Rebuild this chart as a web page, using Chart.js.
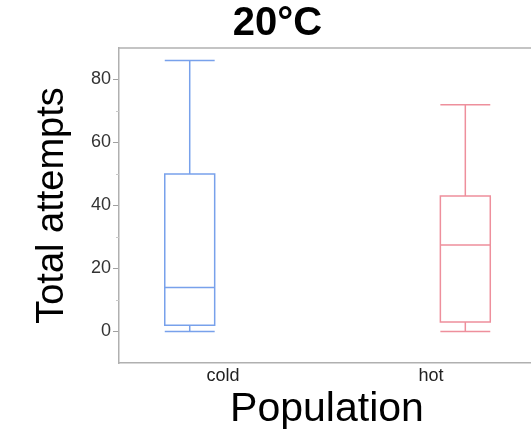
<!DOCTYPE html>
<html>
<head>
<meta charset="utf-8">
<title>20°C</title>
<script src="https://cdn.jsdelivr.net/npm/chart.js@4.4.1/dist/chart.umd.min.js"></script>
<style>
    html, body { margin: 0; padding: 0; background: #fff; overflow: hidden; }
    #wrap { width: 540px; height: 436px; }
</style>
</head>
<body>
<div id="wrap"><canvas id="chart"></canvas></div>
<script>
// box plot values
const populations = ['cold', 'hot'];
const whiskerLow = [0, 0];
const quartile1 = [2, 3];
const medians = [14, 27.5];
const quartile3 = [50, 43];
const whiskerHigh = [86, 72];
const yTicks = [0, 20, 40, 60, 80];
const yMinorTicks = [10, 30, 50, 70];

const FONT = '"Liberation Sans", Arial, Helvetica, sans-serif';
const boxColors = ['#78a1eb', '#ee8f9c'];
const labelPos = [1, 3];        // category names on the x scale
const boxPos = [0.68, 3.33];    // boxes sit a bit off their labels in the original
const boxHalf = 0.24;

const boxPlotPlugin = {
    id: 'boxPlot',
    afterDatasetsDraw(chart) {
        const { ctx, chartArea, scales: { x, y } } = chart;
        ctx.save();

        // top edge of the frame
        ctx.strokeStyle = '#b0b0b0';
        ctx.lineWidth = 1.5;
        ctx.beginPath();
        ctx.moveTo(chartArea.left, chartArea.top);
        ctx.lineTo(chartArea.right, chartArea.top);
        ctx.stroke();

        // minor y ticks
        ctx.strokeStyle = '#c8c8c8';
        ctx.lineWidth = 1;
        ctx.beginPath();
        yMinorTicks.forEach(v => {
            const py = Math.round(y.getPixelForValue(v)) + 0.5;
            ctx.moveTo(chartArea.left - 3, py);
            ctx.lineTo(chartArea.left, py);
        });
        ctx.stroke();

        ctx.lineWidth = 1.5;
        populations.forEach((p, i) => {
            const cx = x.getPixelForValue(boxPos[i]);
            const left = x.getPixelForValue(boxPos[i] - boxHalf);
            const right = x.getPixelForValue(boxPos[i] + boxHalf);
            const yLo = y.getPixelForValue(whiskerLow[i]);
            const yQ1 = y.getPixelForValue(quartile1[i]);
            const yMed = y.getPixelForValue(medians[i]);
            const yQ3 = y.getPixelForValue(quartile3[i]);
            const yHi = y.getPixelForValue(whiskerHigh[i]);

            ctx.strokeStyle = boxColors[i];
            ctx.beginPath();
            ctx.rect(left, yQ3, right - left, yQ1 - yQ3);
            ctx.moveTo(left, yMed); ctx.lineTo(right, yMed);
            ctx.moveTo(cx, yQ3); ctx.lineTo(cx, yHi);
            ctx.moveTo(cx, yQ1); ctx.lineTo(cx, yLo);
            ctx.moveTo(left, yHi); ctx.lineTo(right, yHi);
            ctx.moveTo(left, yLo); ctx.lineTo(right, yLo);
            ctx.stroke();
        });
        ctx.restore();
    }
};

new Chart(document.getElementById('chart'), {
    type: 'scatter',
    data: { datasets: [] },
    options: {
        responsive: true,
        maintainAspectRatio: false,
        animation: false,
        layout: { padding: { left: 20, right: 5, top: 0, bottom: 0 } },
        plugins: {
            legend: { display: false },
            tooltip: { enabled: false },
            title: {
                display: true,
                text: '20°C',
                color: '#000',
                font: { family: FONT, size: 40, weight: 'bold' },
                padding: { top: 0, bottom: 0 }
            }
        },
        scales: {
            x: {
                type: 'linear',
                min: 0,
                max: 4,
                afterBuildTicks: s => { s.ticks = labelPos.map(v => ({ value: v })); },
                afterFit: s => { s.height = 73; },
                ticks: {
                    callback: v => populations[labelPos.indexOf(v)],
                    color: '#222',
                    font: { family: FONT, size: 18 },
                    padding: 2,
                    maxRotation: 0,
                    autoSkip: false
                },
                grid: { drawOnChartArea: false, drawTicks: false },
                border: { color: '#b0b0b0', width: 1.5 },
                title: {
                    display: true,
                    text: 'Population',
                    color: '#000',
                    font: { family: FONT, size: 41 },
                    padding: { top: 0, bottom: 2 }
                }
            },
            y: {
                min: -10,
                max: 90,
                afterBuildTicks: s => { s.ticks = yTicks.map(v => ({ value: v })); },
                afterFit: s => { s.width = 99; },
                ticks: {
                    color: '#333',
                    font: { family: FONT, size: 18 },
                    padding: 2
                },
                grid: { drawOnChartArea: false, tickLength: 6, color: '#a0a0a0' },
                border: { color: '#b0b0b0', width: 1.5 },
                title: {
                    display: true,
                    text: 'Total attempts',
                    color: '#000',
                    font: { family: FONT, size: 38 },
                    padding: { top: 10, bottom: 0 }
                }
            }
        }
    },
    plugins: [boxPlotPlugin]
});
</script>
</body>
</html>
